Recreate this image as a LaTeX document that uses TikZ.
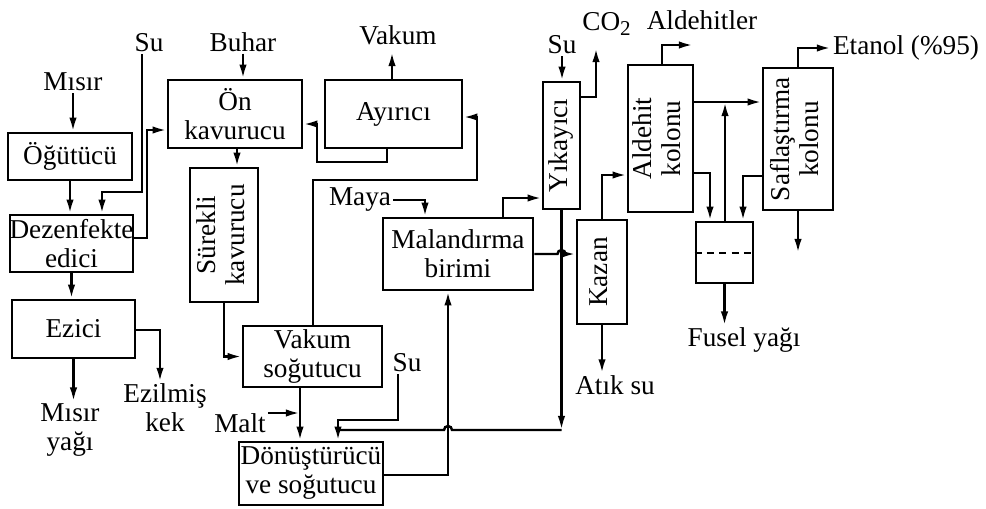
\documentclass[tikz,border=0pt]{standalone}
\usepackage{fontspec}
\setmainfont{Liberation Serif}
\usetikzlibrary{arrows.meta}
\newcommand{\vlabel}[1]{\rotatebox{90}{\begin{tabular}{@{}c@{}}#1\end{tabular}}}

\begin{document}
\begin{tikzpicture}[
    x=0.02cm, y=-0.02cm,
    font=\fontsize{15.5}{16.5}\selectfont,
    >={Latex[length=8pt,width=4.2pt]},
    % Define styles for the units and streams
    unit/.style={rectangle, draw=black, line width=1.5pt, inner sep=1pt, align=center},
    stream/.style={inner sep=1pt, align=center},
    arrow/.style={line width=1.4pt, ->},
    pipe/.style={line width=1.4pt}
]
\useasboundingbox (0,0) rectangle (986,508);

% ==========================================
% Units
% ==========================================
\node[unit, minimum width=2.48cm, minimum height=0.94cm] (ogutucu) at (70,156.5) {Öğütücü};
\node[unit, minimum width=2.46cm, minimum height=1.14cm] (dezen) at (71.5,243.5) {\makebox[2.3cm]{Dezenfekte}\\edici};
\node[unit, minimum width=2.46cm, minimum height=1.16cm] (ezici) at (73.5,329) {Ezici};
\node[unit, minimum width=2.68cm, minimum height=1.36cm] (onkav) at (235,114) {Ön\\kavurucu};
\node[unit, minimum width=2.74cm, minimum height=1.36cm] (ayirici) at (393.5,114) {Ayırıcı};
\node[unit, minimum width=1.36cm, minimum height=2.68cm] (surekli) at (224,235) {\vlabel{Sürekli\\kavurucu}};
\node[unit, minimum width=2.78cm, minimum height=1.22cm] (vakumsog) at (312.5,356.5) {Vakum\\soğutucu};
\node[unit, minimum width=2.84cm, minimum height=1.26cm] (donus) at (311,473.5) {Dönüştürücü\\ve soğutucu};
\node[unit, minimum width=3.0cm, minimum height=1.44cm] (malan) at (458,254) {Malandırma\\birimi};
\node[unit, minimum width=0.74cm, minimum height=2.54cm] (yikayici) at (561.5,145.5) {\vlabel{Yıkayıcı}};
\node[unit, minimum width=1.0cm, minimum height=2.08cm] (kazan) at (602,272) {\vlabel{Kazan}};
\node[unit, minimum width=1.3cm, minimum height=2.94cm] (aldehit) at (660.5,138.5) {\vlabel{Aldehit\\kolonu}};
\node[unit, minimum width=1.14cm, minimum height=1.22cm] (ayirma) at (724.5,252.5) {};
\node[unit, minimum width=1.4cm, minimum height=2.84cm] (saflas) at (798,139) {\vlabel{Saflaştırma\\kolonu}};

% ==========================================
% Streams in and out
% ==========================================
\node[stream] (misir) at (73,82) {Mısır};
\node[stream] (su1) at (149,43) {Su};
\node[stream] (buhar) at (243,42) {Buhar};
\node[stream] (vakum) at (398,35) {Vakum};
\node[stream] (su2) at (562,45) {Su};
\node[stream] (co2) at (607,24) {CO\textsubscript{\large 2}};
\node[stream] (aldlbl) at (702,20) {Aldehitler};
\node[stream] (etanol) at (906,48) {Etanol (\%95)};
\node[stream] (maya) at (360,200) {Maya};
\node[stream] (misiryagi) at (70,430) {Mısır\\yağı};
\node[stream] (ezilmis) at (165,408) {Ezilmiş\\kek};
\node[stream] (malt) at (240,423) {Malt};
\node[stream] (su3) at (407,363) {Su};
\node[stream] (atiksu) at (615,385) {Atık su};
\node[stream] (fusel) at (744,340) {Fusel yağı};

\coordinate (suturn) at (142,192);
\coordinate (co2out) at (596,48);
\coordinate (vakout) at (392,52);
\coordinate (aldout) at (693,45);
\coordinate (sepjoin) at (725,102);
\coordinate (safout) at (796,253);
\coordinate (maltin) at (300,413);
\coordinate (sujoin) at (338,420);
\coordinate (recyc) at (561.5,430);

% ==========================================
% Milling line
% ==========================================
\draw[arrow] (misir) -- (misir |- ogutucu.north);
\draw[arrow] (ogutucu) -- (ogutucu |- dezen.north);
\draw[arrow] (su1.south -| suturn) -- (suturn) -| ([xshift=0.61cm]dezen.north);
\draw[arrow] (dezen) -- (dezen |- ezici.north);
\draw[arrow] (ezici) -- (ezici |- misiryagi.north);
\draw[arrow] (ezici.east |- 0,330) -| ([xshift=-0.1cm]ezilmis.north);
\draw[arrow] (dezen.east |- 0,238) -| (147,130) |- (onkav.west |- 0,130);

% ==========================================
% Cooking and conversion
% ==========================================
\draw[arrow] (buhar) -- (buhar |- onkav.north);
\draw[arrow] (onkav.south -| 237,0) -- (237,0 |- surekli.north);
\draw[arrow] (surekli.south) |- (vakumsog.west);
\draw[arrow] (vakumsog.south -| 300,0) -- (300,0 |- donus.north);
\draw[arrow] (malt.east |- maltin) -- (maltin);
\draw[arrow] (su3.south -| 398,0) |- (sujoin) -- (sujoin |- donus.north);
\draw[arrow] (ayirici.north -| vakout) -- (vakout);
\draw[arrow] (ayirici.south -| 387,0) |- (317,162) |- (onkav.east |- 0,124);
\draw[arrow] (vakumsog.north -| 313,0) |- (477,180) |- (ayirici.east |- 0,117);

% ==========================================
% Fermentation
% ==========================================
\draw[arrow] (donus.east |- 0,475) -| (malan.south -| 448,0);
\draw[arrow] (maya.east) -| (malan.north -| 425,0);
\draw[arrow] (malan.north -| 503,0) |- (yikayici.west |- 0,198);
\draw[arrow] (malan.east) -- ([xshift=-0.08cm]malan.east -| yikayici.south) arc[start angle=180, end angle=0, radius=0.08cm] -- (kazan.west |- malan.east);
\draw[arrow] (su2) -- (su2 |- yikayici.north);
\draw[arrow] (yikayici.east |- 0,97) -| (co2out);
\draw[arrow] (yikayici.south) -- (recyc);
\draw[pipe] (recyc) -- (452,430) arc[start angle=0, end angle=180, radius=0.08cm] -- (sujoin |- recyc);

% ==========================================
% Distillation
% ==========================================
\draw[arrow] (kazan.south) -- (kazan.south |- atiksu.north);
\draw[arrow] (kazan.north) |- (aldehit.west |- 0,175);
\draw[arrow] (aldehit.north -| 662,0) |- (aldout);
\draw[arrow] (aldehit.east |- 0,102) -- (saflas.west |- 0,102);
\draw[arrow] (aldehit.east |- 0,173) -| (ayirma.north -| 710,0);
\draw[arrow] (ayirma.north -| sepjoin) -- (sepjoin);
\draw[arrow] (saflas.west |- 0,176) -| (ayirma.north -| 743,0);
\draw[pipe, dash pattern=on 4pt off 3pt] (ayirma.west |- 0,253) -- (ayirma.east |- 0,253);
\draw[arrow] (ayirma) -- (ayirma |- fusel.north);
\draw[arrow] (saflas.north) |- (etanol.west);
\draw[arrow] (saflas.south) -- (saflas.south |- safout);

\end{tikzpicture}
\end{document}
